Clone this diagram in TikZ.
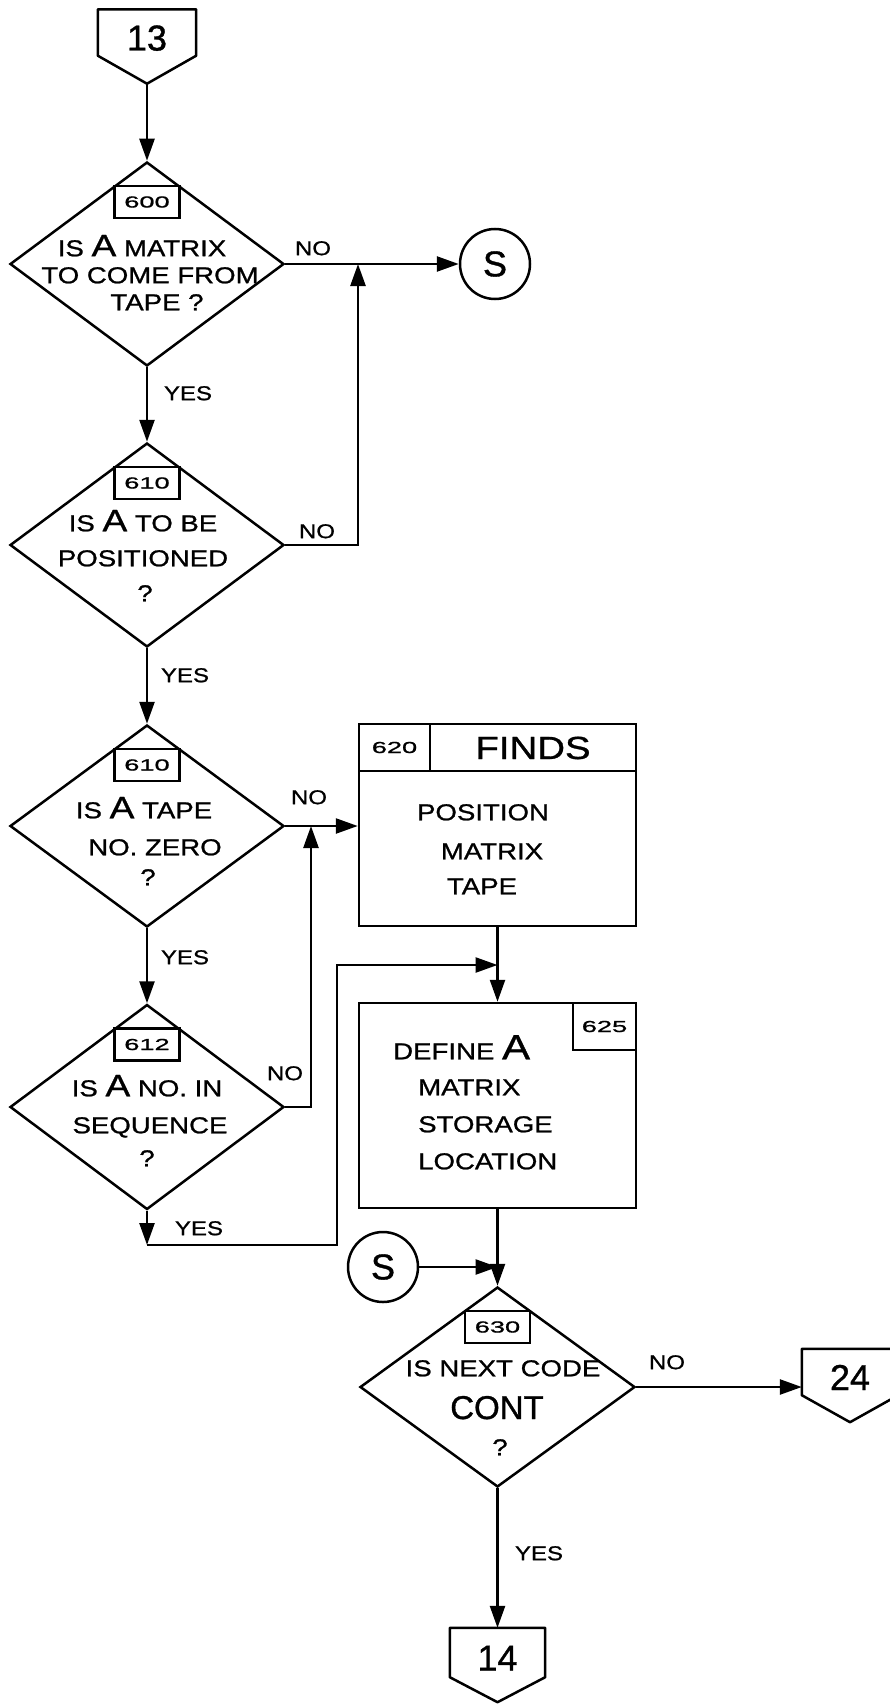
\documentclass[tikz,border=0pt]{standalone}
\usepackage{fontspec}
\setmainfont[FakeBold=1]{Liberation Sans}
\newfontfamily\handw[FakeStretch=1.2,FakeBold=1]{Liberation Sans}
\newfontfamily\handl[FakeStretch=1.7,FakeBold=1]{Liberation Sans}
\usetikzlibrary{shapes.geometric,arrows.meta,calc}
\newcommand\pentout[2]{\draw[line width=2.5pt,line join=round] (#1.north west) -- (#1.north east) -- (#1.south east) -- ($(#1.south)+(0,#2)$) -- (#1.south west) -- cycle;}
\tikzset{
  flow/.style={line width=2.5pt},
  arr/.style={line width=2.5pt,-{Triangle[length=22pt,width=15pt]}},
  dec/.style={diamond,draw,line width=2.5pt,inner sep=0pt,minimum width=274pt,minimum height=204pt},
  proc/.style={rectangle,draw,line width=2.5pt,inner sep=0pt,minimum width=277pt,minimum height=202pt},
  conn/.style={circle,draw,line width=2.5pt,inner sep=0pt,minimum size=70pt,font=\fontsize{36}{36}\selectfont},
  pagebox/.style={rectangle,inner sep=0pt,minimum height=46pt,text height=36pt,text depth=0pt,font=\fontsize{36}{36}\selectfont},
  body/.style={inner sep=0pt,text height=16.5pt,text depth=0pt,font=\handw\fontsize{23}{23}\selectfont},
  tag/.style={draw,fill=white,line width=2.5pt,inner sep=0pt,minimum width=65pt,minimum height=32pt,font=\handl\fontsize{16}{16}\selectfont},
  yn/.style={inner sep=0pt,text height=14.3pt,text depth=0pt,font=\handw\fontsize{20}{20}\selectfont},
}
\newcommand\bigA{{\fontsize{31}{31}\selectfont A}}
\begin{document}
\begin{tikzpicture}[x=1pt,y=-1pt]
\useasboundingbox[fill=white] (0,0) rectangle (889,1704);

% off-page connectors
\node[pagebox,minimum width=98pt] (c13) at (147,32.5) {13};
\pentout{c13}{28}
\coordinate (c13tip) at ($(c13.south)+(0,28)$);
\node[pagebox,minimum width=96pt] (c24) at (850,1372) {24};
\pentout{c24}{27}
\node[pagebox,minimum width=95pt,minimum height=49pt] (c14) at (497.5,1652.5) {14};
\pentout{c14}{25}

% decisions
\node[dec] (d600) at (147,264) {};
\node[tag] (t600) at (147,202) {600};
\node[body] (x600a) at (142,248) {IS \bigA\ MATRIX};
\node[body] (x600b) at (150,275) {TO COME FROM};
\node[body] (x600c) at (157,302) {TAPE ?};

\node[dec] (d610) at (147,545) {};
\node[tag] (t610) at (147,483) {610};
\node[body] (x610a) at (143,523) {IS \bigA\ TO BE};
\node[body] (x610b) at (143,558) {POSITIONED};
\node[body] (x610c) at (145,593) {?};

\node[dec,minimum height=202pt] (d611) at (147,826) {};
\node[tag] (t611) at (147,765) {610};
\node[body] (x611a) at (144,810) {IS \bigA\ TAPE};
\node[body] (x611b) at (155,847) {NO. ZERO};
\node[body] (x611c) at (148,877) {?};

\node[dec,minimum height=205pt] (d612) at (147,1107) {};
\node[tag] (t612) at (147,1044.5) {612};
\node[body] (x612a) at (147,1088) {IS \bigA\ NO. IN};
\node[body] (x612b) at (150,1125) {SEQUENCE};
\node[body] (x612c) at (147,1158) {?};

\node[dec,minimum width=275pt,minimum height=200pt] (d630) at (497.5,1387) {};
\node[tag] (t630) at (497.5,1327) {630};
\node[body] (x630a) at (503,1368) {IS NEXT CODE};
\node[body,text height=24pt,font=\fontsize{33}{33}\selectfont] (x630b) at (497,1407) {CONT};
\node[body] (x630c) at (500,1447) {?};

% processes
\node[proc] (b620) at (497.5,825) {};
\node[tag,minimum width=71pt,minimum height=47pt] (t620) at (394.5,747.5) {620};
\node[draw,line width=2.5pt,inner sep=0pt,minimum width=206pt,minimum height=47pt,text height=23pt,text depth=0pt,font=\handw\fontsize{32}{32}\selectfont] (f620) at (533,747.5) {FINDS};
\node[body] (x620a) at (483,812) {POSITION};
\node[body] (x620b) at (492,851) {MATRIX};
\node[body] (x620c) at (482,886) {TAPE};

\node[proc,minimum height=205pt] (b625) at (497.5,1105.5) {};
\node[tag,minimum width=63pt,minimum height=47pt] (t625) at (604.5,1026.5) {625};
\node[body,anchor=west] (x625a) at (393,1051) {DEFINE {\fontsize{35}{35}\selectfont A}};
\node[body,anchor=west] (x625b) at (418,1087) {MATRIX};
\node[body,anchor=west] (x625c) at (418,1124) {STORAGE};
\node[body,anchor=west] (x625d) at (418,1161) {LOCATION};

% connectors S
\node[conn] (sA) at (495,264) {S};
\node[conn] (sB) at (383,1267) {S};

% junctions
\coordinate (j1) at (358,264);
\coordinate (j2) at (311,826);
\coordinate (j3) at (497.5,1267);
\coordinate (y612) at (147,1245);

% flow lines
\draw[arr] (c13tip) -- (d600.north);
\draw[arr] (d600.east) -- (sA.west);
\draw[arr] (d600.south) -- (d610.north);
\draw[arr] (d610.east) -| (j1);
\draw[arr] (d610.south) -- (d611.north);
\draw[arr] (d611.east) -- (d611.east -| b620.west);
\draw[arr] (d612.east) -| (j2);
\draw[arr] (d611.south) -- (d612.north);
\draw[arr] (d612.south) -- (y612);
\draw[arr] (y612) -- (337,1245) -- (337,965) -- (b620.south |- 0,965);
\draw[arr] (b620.south) -- (b625.north);
\draw[arr] (b625.south) -- (d630.north);
\draw[arr] (sB.east) -- (j3);
\draw[arr] (d630.east) -- (d630.east -| c24.west);
\draw[arr] (d630.south) -- (c14.north);

% branch labels
\node[yn] (n600) at (313,248) {NO};
\node[yn] (n610) at (317,531) {NO};
\node[yn] (n611) at (309,797) {NO};
\node[yn] (n612) at (285,1073) {NO};
\node[yn] (n630) at (667,1362) {NO};
\node[yn] (e600) at (188,393) {YES};
\node[yn] (e610) at (185,675) {YES};
\node[yn] (e611) at (185,957) {YES};
\node[yn] (e612) at (199,1228) {YES};
\node[yn] (e630) at (539,1553) {YES};
\end{tikzpicture}
\end{document}
